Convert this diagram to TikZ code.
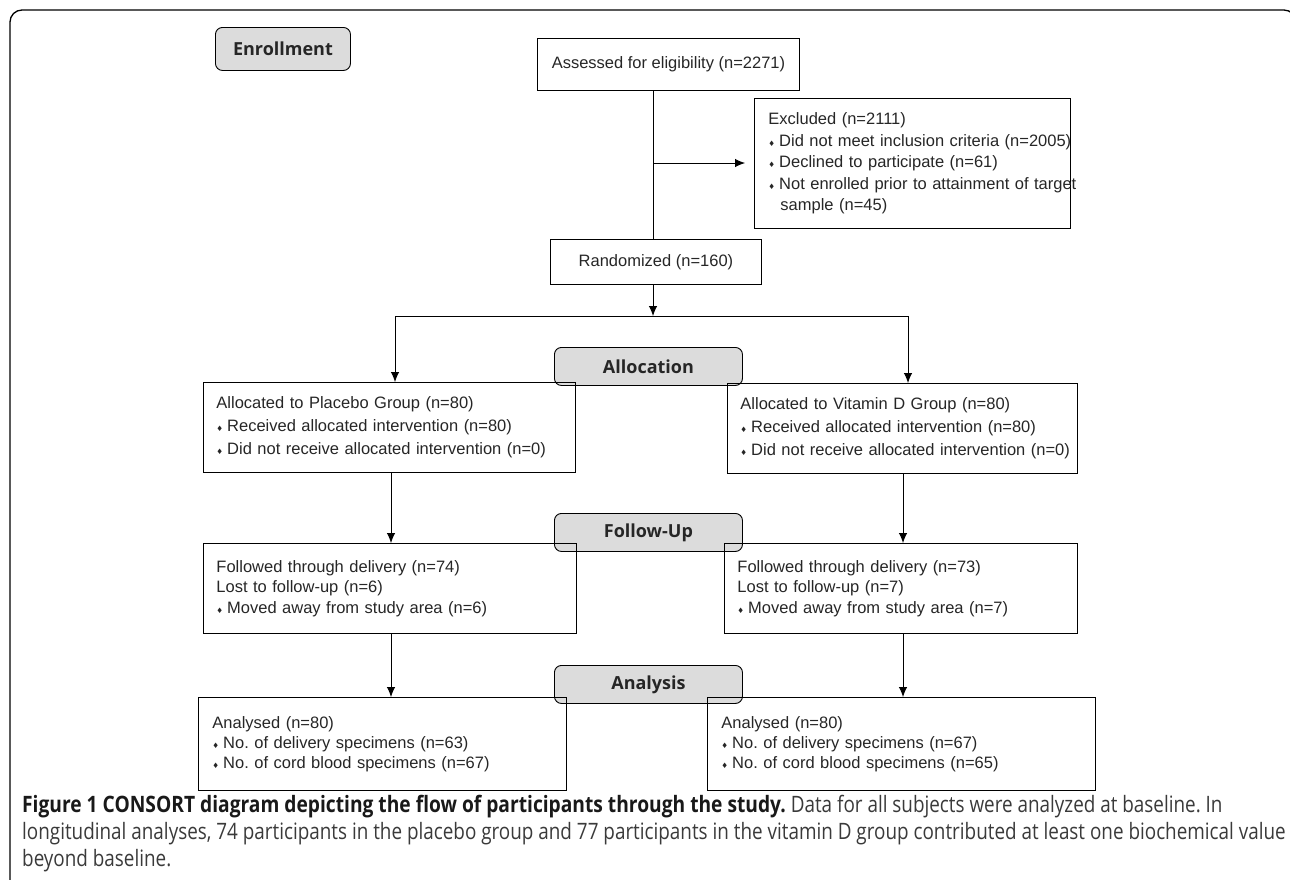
\documentclass[tikz,border=0pt]{standalone}
\usepackage{fontspec}
\setmainfont{Liberation Sans}
\newfontfamily\hdfont{Open Sans}
\newfontfamily\capfont[FakeStretch=0.835]{Open Sans}
\newfontfamily\capbf[FakeStretch=0.85]{Open Sans}
\newfontfamily\symf{DejaVu Sans}
\usetikzlibrary{arrows.meta}
\frenchspacing
\newcommand\bul{{\symf\fontsize{7.5}{7}\selectfont ♦}\hspace{4pt}}
\newcommand\li[1]{\mbox{#1}}
\definecolor{hdgray}{HTML}{DCDCDC}
\definecolor{capgray}{HTML}{3A3A3A}
\tikzset{
  box/.style={draw, line width=0.9pt, rectangle, anchor=north west, inner sep=0pt,
    font=\fontsize{16.5}{21.5}\selectfont, text=black!85},
  hdr/.style={draw, line width=0.9pt, rounded corners=7pt, fill=hdgray, anchor=north west,
    inner sep=0pt, font=\hdfont\bfseries\fontsize{18}{20}\selectfont, text=black!85},
  arr/.style={line width=0.9pt, -{Latex[length=10pt,width=8.5pt]}},
  ln/.style={line width=0.9pt},
}
\begin{document}
\begin{tikzpicture}[x=1pt,y=-1pt]
\useasboundingbox (0,0) rectangle (1290,879);
\begin{scope}
\clip (0,0) rectangle (1290,879);
\draw[line width=1.3pt, rounded corners=12pt] (10,900) -- (10,10) -- (1296,10) -- (1296,900);
\end{scope}
% headers
\node[hdr, minimum width=135pt, minimum height=43pt] (enr) at (215,27) {Enrollment};
\node[hdr, minimum width=188pt, minimum height=38pt] (alh) at (554,347) {Allocation};
\node[hdr, minimum width=188pt, minimum height=38pt] (fuh) at (554,513) {Follow-Up};
\node[hdr, minimum width=188pt, minimum height=38pt] (anh) at (554,665) {Analysis};
% enrollment boxes
\node[box, minimum width=262pt, minimum height=52pt, align=center] (ass) at (537,38) {Assessed for eligibility (n=2271)};
\node[box, minimum width=316pt, minimum height=130pt, text width=288pt, align=left, inner xsep=14pt] (exc) at (754,98)
 {\li{Excluded (n=2111)}\\
  \li{\bul Did not meet inclusion criteria (n=2005)}\\
  \li{\bul Declined to participate (n=61)}\\
  \li{\bul Not enrolled prior to attainment of target}\\
  \li{\hspace{12pt}sample (n=45)}};
\node[box, minimum width=211pt, minimum height=45pt, align=center] (ran) at (550,239) {Randomized (n=160)};
% allocation boxes
\node[box, minimum width=372pt, minimum height=90pt, text width=346pt, align=left, inner xsep=13pt, font=\fontsize{16.5}{23}\selectfont] (pa) at (203,382)
 {\li{Allocated to Placebo Group (n=80)}\\
  \li{\bul Received allocated intervention (n=80)}\\
  \li{\bul Did not receive allocated intervention (n=0)}};
\node[box, minimum width=350pt, minimum height=90pt, text width=324pt, align=left, inner xsep=13pt, font=\fontsize{16.5}{23}\selectfont] (va) at (727,383)
 {\li{Allocated to Vitamin D Group (n=80)}\\
  \li{\bul Received allocated intervention (n=80)}\\
  \li{\bul Did not receive allocated intervention (n=0)}};
% follow-up boxes
\node[box, minimum width=373pt, minimum height=90pt, text width=347pt, align=left, inner xsep=13pt, font=\fontsize{16.5}{20.5}\selectfont] (pf) at (203,543)
 {\li{Followed through delivery (n=74)}\\
  \li{Lost to follow-up (n=6)}\\
  \li{\bul Moved away from study area (n=6)}};
\node[box, minimum width=353pt, minimum height=90pt, text width=327pt, align=left, inner xsep=13pt, font=\fontsize{16.5}{20.5}\selectfont] (vf) at (724,543)
 {\li{Followed through delivery (n=73)}\\
  \li{Lost to follow-up (n=7)}\\
  \li{\bul Moved away from study area (n=7)}};
% analysis boxes
\node[box, minimum width=368pt, minimum height=93pt, text width=340pt, align=left, inner xsep=14pt, font=\fontsize{16.5}{20}\selectfont] (pn) at (198,697)
 {\li{Analysed (n=80)}\\
  \li{\bul No. of delivery specimens (n=63)}\\
  \li{\bul No. of cord blood specimens (n=67)}};
\node[box, minimum width=388pt, minimum height=93pt, text width=360pt, align=left, inner xsep=14pt, font=\fontsize{16.5}{20}\selectfont] (vn) at (707,697)
 {\li{Analysed (n=80)}\\
  \li{\bul No. of delivery specimens (n=67)}\\
  \li{\bul No. of cord blood specimens (n=65)}};
% coordinates
\coordinate (cx) at (653,0);
\coordinate (split) at (653,316);
\coordinate (L) at (395,0);
\coordinate (R) at (908,0);
\coordinate (L2) at (391,0);
\coordinate (R2) at (903,0);
\coordinate (exa) at (653,163);
\coordinate (exend) at (745,163);
% connectors
\draw[ln] (ass.south -| cx) -- (ran.north -| cx);
\draw[arr] (exa) -- (exend);
\draw[arr] (ran.south -| cx) -- (split);
\draw[ln] (split -| L) -- (split -| R);
\draw[arr] (split -| L) -- (pa.north -| L);
\draw[arr] (split -| R) -- (va.north -| R);
\draw[arr] (pa.south -| L2) -- (pf.north -| L2);
\draw[arr] (va.south -| R2) -- (vf.north -| R2);
\draw[arr] (pf.south -| L2) -- (pn.north -| L2);
\draw[arr] (vf.south -| R2) -- (vn.north -| R2);
% caption
\node[anchor=north west, inner sep=0pt, align=left, font=\capfont\fontsize{22.6}{27}\selectfont, text=capgray] (cap) at (22,795)
 {{\capbf\bfseries\color{black!90}Figure 1 CONSORT diagram depicting the flow of participants through the study.} Data for all subjects were analyzed at baseline. In\\
  longitudinal analyses, 74 participants in the placebo group and 77 participants in the vitamin D group contributed at least one biochemical value\\
  beyond baseline.};
\end{tikzpicture}
\end{document}
